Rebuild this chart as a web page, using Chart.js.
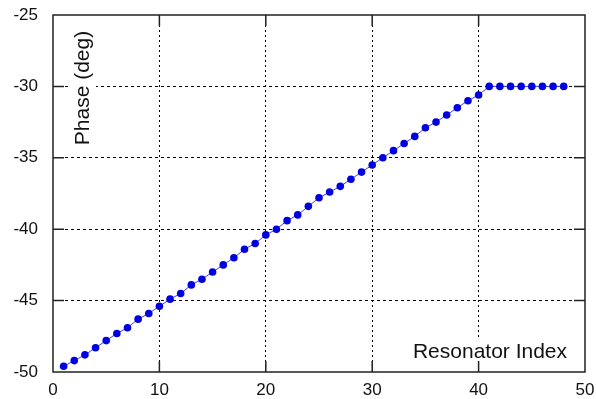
<!DOCTYPE html>
<html>
<head>
<meta charset="utf-8">
<script src="https://cdn.jsdelivr.net/npm/chart.js@4/dist/chart.umd.min.js"></script>
<style>
  html, body { margin: 0; padding: 0; background: #fff; }
  canvas { display: block; }
</style>
</head>
<body>
<canvas id="phaseChart" width="596" height="399"></canvas>
<script>
// resonator number along the array
const resonatorIndex = [
  1, 2, 3, 4, 5, 6, 7, 8, 9, 10,
  11, 12, 13, 14, 15, 16, 17, 18, 19, 20,
  21, 22, 23, 24, 25, 26, 27, 28, 29, 30,
  31, 32, 33, 34, 35, 36, 37, 38, 39, 40,
  41, 42, 43, 44, 45, 46, 47, 48
];
// phase per resonator (deg), ramps up then saturates at -30
const phaseDeg = [
  -49.6, -49.2, -48.8, -48.3, -47.8, -47.3, -46.9, -46.3, -45.9, -45.4,
  -44.9, -44.5, -43.9, -43.5, -43.0, -42.5, -42.0, -41.4, -41.0, -40.4,
  -40.0, -39.4, -39.0, -38.4, -37.8, -37.4, -37.0, -36.5, -36.0, -35.5,
  -35.0, -34.5, -34.0, -33.5, -32.9, -32.5, -32.0, -31.5, -31.0, -30.6,
  -30.0, -30.0, -30.0, -30.0, -30.0, -30.0, -30.0, -30.0
];
const xTicks = [0, 10, 20, 30, 40, 50];
const yTicks = [-50, -45, -40, -35, -30, -25];

const FONT = "'Liberation Sans', Arial, sans-serif";

const points = resonatorIndex.map((x, i) => ({ x: x, y: phaseDeg[i] }));

// dotted grid only on the inner lines, the frame is drawn separately
const innerOnly = (c) =>
  c.index === 0 || c.index === c.scale.ticks.length - 1 ? "rgba(0,0,0,0)" : "#000";

// axis titles sit inside the plot on a white patch
const axisText = {
  id: "axisText",
  beforeDatasetsDraw(chart) {
    const { ctx, chartArea } = chart;
    ctx.save();
    ctx.font = "21px " + FONT;
    ctx.textBaseline = "middle";
    ctx.textAlign = "center";

    // y title, rotated
    ctx.save();
    ctx.translate(chartArea.left + 29, chartArea.top + 73);
    ctx.rotate(-Math.PI / 2);
    ctx.fillStyle = "#fff";
    ctx.fillRect(-62, -14, 124, 28);
    ctx.fillStyle = "#111";
    ctx.fillText("Phase (deg)", 0, 1);
    ctx.restore();

    // x title
    const tx = chartArea.right - 95;
    const ty = chartArea.bottom - 21;
    ctx.fillStyle = "#fff";
    ctx.fillRect(tx - 84, ty - 13, 168, 26);
    ctx.fillStyle = "#111";
    ctx.fillText("Resonator Index", tx, ty + 1);
    ctx.restore();
  }
};

// box around the plot plus short inward tick marks
const frameTicks = {
  id: "frameTicks",
  afterDraw(chart) {
    const ctx = chart.ctx;
    const a = chart.chartArea;
    const sx = chart.scales.x;
    const sy = chart.scales.y;
    const len = 11;
    ctx.save();
    ctx.setLineDash([]);
    ctx.strokeStyle = "#222";
    ctx.lineWidth = 1.5;
    ctx.beginPath();
    xTicks.forEach((v) => {
      const px = sx.getPixelForValue(v);
      ctx.moveTo(px, a.bottom);
      ctx.lineTo(px, a.bottom - len);
      ctx.moveTo(px, a.top);
      ctx.lineTo(px, a.top + len);
    });
    yTicks.forEach((v) => {
      const py = sy.getPixelForValue(v);
      ctx.moveTo(a.left, py);
      ctx.lineTo(a.left + len, py);
      ctx.moveTo(a.right, py);
      ctx.lineTo(a.right - len, py);
    });
    ctx.rect(a.left, a.top, a.right - a.left, a.bottom - a.top);
    ctx.stroke();
    ctx.restore();
  }
};

new Chart(document.getElementById("phaseChart"), {
  type: "scatter",
  data: {
    datasets: [{
      data: points,
      showLine: true,
      borderColor: "#4040f0",
      borderWidth: 1,
      backgroundColor: "#0000e0",
      pointBackgroundColor: "#0000e0",
      pointBorderColor: "#0000e0",
      pointBorderWidth: 0,
      pointRadius: 3.8
    }]
  },
  options: {
    responsive: false,
    devicePixelRatio: 1,
    animation: false,
    layout: { padding: { top: 15, right: 11, bottom: 0, left: 0 } },
    plugins: {
      legend: { display: false },
      tooltip: { enabled: false }
    },
    scales: {
      x: {
        type: "linear",
        min: 0,
        max: 50,
        afterBuildTicks: (s) => { s.ticks = xTicks.map((v) => ({ value: v })); },
        afterFit: (s) => {
          s.height = 27;
          s.paddingLeft = 0;
          s.paddingRight = 0;
        },
        grid: { color: innerOnly, lineWidth: 1, drawTicks: false },
        border: { display: false, dash: [2, 3] },
        ticks: { padding: 8, color: "#111", font: { family: FONT, size: 17 } }
      },
      y: {
        type: "linear",
        min: -50,
        max: -25,
        afterBuildTicks: (s) => { s.ticks = yTicks.map((v) => ({ value: v })); },
        afterFit: (s) => {
          s.width = 53;
          s.paddingTop = 0;
          s.paddingBottom = 0;
        },
        grid: { color: innerOnly, lineWidth: 1, drawTicks: false },
        border: { display: false, dash: [3, 3] },
        ticks: { padding: 15, color: "#111", font: { family: FONT, size: 17 } }
      }
    }
  },
  plugins: [axisText, frameTicks]
});
</script>
</body>
</html>
